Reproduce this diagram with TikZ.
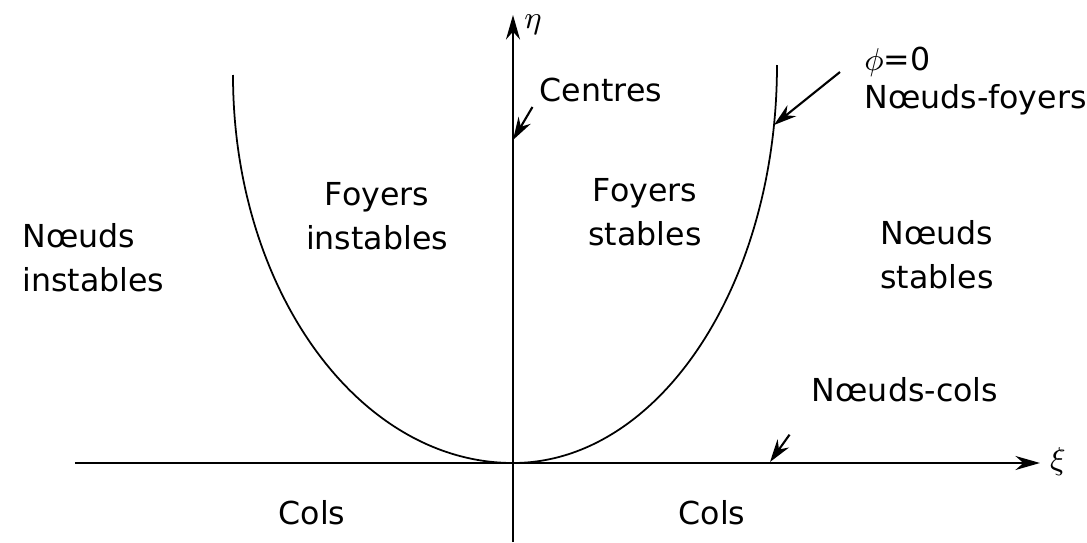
\documentclass[tikz,border=0pt]{standalone}
\usepackage{fontspec}
\setmainfont{DejaVu Sans}
\usetikzlibrary{arrows.meta}

\begin{document}
\begin{tikzpicture}[
  lbl/.style={font=\fontsize{9}{12.5}\selectfont},
  ptr/.style={-{Stealth[length=6.5pt,width=4pt]},line width=0.6pt},
  axis/.style={line width=0.5pt}]
\useasboundingbox (0,0) rectangle (10.87,5.42);
% axes
\coordinate (O) at (5.13,0.79);
\coordinate (xl) at (0.75,0.79);
\coordinate (xr) at (10.40,0.79);
\coordinate (yb) at (5.13,0.0);
\coordinate (yt) at (5.13,5.27);
\draw[axis,-{Stealth[length=7pt,width=4pt]}] (xl) -- (xr);
\draw[axis,-{Stealth[length=7pt,width=4pt]}] (yb) -- (yt);
\node[lbl] (xi) at (10.58,0.80) {$\xi$};
\node[lbl] (eta) at (5.33,5.17) {$\eta$};

% phi = 0
\draw[axis] (O) arc[start angle=-90,end angle=-180,x radius=2.80,y radius=3.88];
\draw[axis] (O) arc[start angle=-90,end angle=0,x radius=2.64,y radius=3.98];
\begin{scope}[shift={(O)}]
\coordinate (c1) at (2.61,3.38);
\end{scope}
\coordinate (c2) at (5.13,4.02);
\coordinate (c3) at (7.70,0.80);

% labels
\node[lbl] (centres) at (6.01,4.52) {Centres};
\node[lbl,anchor=west] (phi) at (8.52,4.80) {$\phi$=0};
\node[lbl,anchor=west] (nf) at (8.52,4.42) {Nœuds-foyers};
\node[lbl,align=center] (fi) at (3.77,3.26) {Foyers\\instables};
\node[lbl,align=center] (fs) at (6.45,3.30) {Foyers\\stables};
\node[lbl,align=left,anchor=west] (ni) at (0.10,2.84) {Nœuds\\instables};
\node[lbl,align=left,anchor=west] (ns) at (8.68,2.87) {Nœuds\\stables};
\node[lbl] (nc) at (9.05,1.52) {Nœuds-cols};
\node[lbl] (colsl) at (3.12,0.29) {Cols};
\node[lbl] (colsr) at (7.12,0.29) {Cols};

% pointers
\draw[ptr] (centres.west) ++(0.05,-0.17) -- (c2);
\draw[ptr] (phi.west) ++(-0.12,-0.10) -- (c1);
\draw[ptr] (nc.south west) ++(-0.10,-0.20) -- (c3);
\end{tikzpicture}
\end{document}
